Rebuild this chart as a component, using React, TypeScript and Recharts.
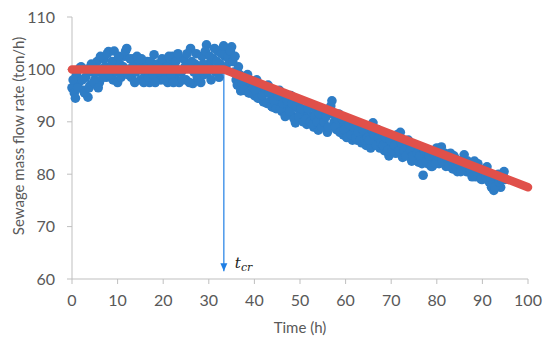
import React from 'react';
import { ScatterChart, Scatter, XAxis, YAxis, ReferenceLine, ReferenceDot } from 'recharts';

// Measured sewage mass flow rate (time h, flow ton/h) — readings on the half hour
const measuredA: [number, number][] = [
  [0, 96.5], [0.5, 95.5], [1, 99], [1.5, 97.5], [2, 100.5], [2.5, 96], [3, 98.5], [3.5, 94.7], [4, 97], [4.5, 99.5],
  [5, 98], [5.5, 101.5], [6, 97.5], [6.5, 100], [7, 102], [7.5, 98.5], [8, 103.4], [8.5, 100], [9, 98], [9.5, 101.5],
  [10, 97.5], [10.5, 101], [11, 99], [11.5, 102.5], [12, 104], [12.5, 100], [13, 98.5], [13.5, 102], [14, 99.5], [14.5, 101],
  [15, 98], [15.5, 100.5], [16, 99], [16.5, 101.5], [17, 97.5], [17.5, 100], [18, 102.8], [18.5, 98.5], [19, 100.5], [19.5, 98],
  [20, 101.5], [20.5, 99], [21, 97.5], [21.5, 101], [22, 102.5], [22.5, 98.5], [23, 100], [23.5, 97.5], [24, 99.5], [24.5, 102],
  [25, 98], [25.5, 100.5], [26, 104], [26.5, 97.3], [27, 101], [27.5, 98.5], [28, 100], [28.5, 102.5], [29, 99], [29.5, 104.7],
  [30, 101], [30.5, 98], [31, 102], [31.5, 99.5], [32, 103.5], [32.5, 101], [33, 100], [33.5, 102.5], [34, 104], [34.5, 101.5],
  [35, 104.3], [35.5, 99.5], [36, 98], [36.5, 100.5], [37, 95.9], [37.5, 98.5], [38, 97], [38.5, 99], [39, 95.5], [39.5, 97.5],
  [40, 95], [40.5, 98], [41, 94.5], [41.5, 96.5], [42, 93.8], [42.5, 95.5], [43, 97], [43.5, 94], [44, 92.8], [44.5, 95],
  [45, 93.5], [45.5, 96], [46, 92], [46.5, 94.5], [47, 91.5], [47.5, 93], [48, 95], [48.5, 91], [49, 89.8], [49.5, 92.5],
  [50, 94], [50.5, 90.5], [51, 92], [51.5, 89.5], [52, 93], [52.5, 91], [53, 89], [53.5, 92], [54, 88.4], [54.5, 90.5],
  [55, 91.5], [55.5, 89], [56, 88], [56.5, 92.5], [57, 94], [57.5, 90], [58, 88.5], [58.5, 91.5], [59, 89], [59.5, 87.5],
  [60, 90], [60.5, 88], [61, 89.5], [61.5, 86.5], [62, 88.5], [62.5, 86.5], [63, 89], [63.5, 86], [64, 87.5], [64.5, 85.5],
  [65, 88], [65.5, 85], [66, 89.8], [66.5, 86.5], [67, 88.5], [67.5, 85], [68, 87], [68.5, 84.5], [69, 86], [69.5, 83.5],
  [70, 85.5], [70.5, 87], [71, 84], [71.5, 86.5], [72, 88], [72.5, 83.2], [73, 85], [73.5, 84], [74, 86], [74.5, 82.5],
  [75, 84.5], [75.5, 83], [76, 82.3], [76.5, 85], [77, 79.8], [77.5, 83.5], [78, 82], [78.5, 84.5], [79, 81.5], [79.5, 83],
  [80, 85], [80.5, 82], [81, 85.2], [81.5, 83.5], [82, 81.5], [82.5, 82.3], [83, 84], [83.5, 81], [84, 83], [84.5, 80.5],
  [85, 82.5], [85.5, 81], [86, 83.7], [86.5, 80.5], [87, 82], [87.5, 80.2], [88, 81.5], [88.5, 79.5], [89, 82], [89.5, 80],
  [90, 79], [90.5, 81], [91, 81.4], [91.5, 78.5], [92, 77.5], [92.5, 76.9], [93, 78.5], [93.5, 80], [94, 77.5], [94.5, 80],
  [95, 79],
];

// Measured readings in between (quarter past / quarter to)
const measuredB: [number, number][] = [
  [0.25, 98], [0.75, 94.5], [1.25, 96.5], [1.75, 100.3], [2.25, 98], [2.75, 95.5], [3.25, 100], [3.75, 96.5], [4.25, 101], [4.75, 97.5],
  [5.25, 99.5], [5.75, 96.5], [6.25, 102.5], [6.75, 98.5], [7.25, 100.5], [7.75, 103], [8.25, 99], [8.75, 101.5], [9.25, 103.5], [9.75, 99.5],
  [10.25, 102.5], [10.75, 98.5], [11.25, 100.5], [11.75, 103.5], [12.25, 99], [12.75, 102], [13.25, 100.5], [13.75, 97.5], [14.25, 102.5], [14.75, 100],
  [15.25, 102], [15.75, 97.5], [16.25, 100.5], [16.75, 98.5], [17.25, 101.5], [17.75, 99], [18.25, 97.5], [18.75, 101], [19.25, 99.5], [19.75, 102],
  [20.25, 98], [20.75, 100.5], [21.25, 102.5], [21.75, 99], [22.25, 97.5], [22.75, 101.5], [23.25, 103], [23.75, 99.5], [24.25, 98], [24.75, 100.5],
  [25.25, 103], [25.75, 97.5], [26.25, 101.5], [26.75, 99.5], [27.25, 103], [27.75, 100.5], [28.25, 97.5], [28.75, 101], [29.25, 103.5], [29.75, 99.5],
  [30.25, 102.5], [30.75, 100], [31.25, 104], [31.75, 101.5], [32.25, 98.5], [32.75, 103], [33.25, 104.5], [33.75, 100.5], [34.25, 102.5], [34.75, 103.5],
  [35.25, 101.5], [35.75, 102.5], [36.25, 97], [36.75, 99], [37.25, 97.5], [37.75, 96], [38.25, 98.5], [38.75, 95.5], [39.25, 97.5], [39.75, 96.5],
  [40.25, 96], [40.75, 94.5], [41.25, 97], [41.75, 95], [42.25, 96.5], [42.75, 93.5], [43.25, 95.5], [43.75, 93], [44.25, 94], [44.75, 92.5],
  [45.25, 95], [45.75, 92.5], [46.25, 93.5], [46.75, 91], [47.25, 94], [47.75, 92], [48.25, 93.5], [48.75, 90.5], [49.25, 93], [49.75, 91],
  [50.25, 92.5], [50.75, 90], [51.25, 90.5], [51.75, 92.5], [52.25, 90], [52.75, 89.5], [53.25, 91], [53.75, 90], [54.25, 91.5], [54.75, 89],
  [55.25, 90], [55.75, 91], [56.25, 89], [56.75, 93], [57.25, 91.5], [57.75, 89], [58.25, 90.5], [58.75, 88], [59.25, 90.5], [59.75, 88.5],
  [60.25, 87], [60.75, 89.5], [61.25, 87.5], [61.75, 89], [62.25, 87], [62.75, 88], [63.25, 86.5], [63.75, 88.5], [64.25, 86.5], [64.75, 87],
  [65.25, 86.5], [65.75, 88.5], [66.25, 87.5], [66.75, 85.5], [67.25, 87], [67.75, 86], [68.25, 85.5], [68.75, 87], [69.25, 84.5], [69.75, 86.5],
  [70.25, 84.5], [70.75, 85.5], [71.25, 87.5], [71.75, 84.5], [72.25, 86], [72.75, 84.5], [73.25, 83.5], [73.75, 86.5], [74.25, 84.5], [74.75, 83.5],
  [75.25, 85.5], [75.75, 84], [76.25, 83.5], [76.75, 82], [77.25, 84.5], [77.75, 82.5], [78.25, 83.5], [78.75, 81.5], [79.25, 84], [79.75, 82],
  [80.25, 83.5], [80.75, 84.5], [81.25, 82.5], [81.75, 84], [82.25, 83], [82.75, 81.5], [83.25, 82.5], [83.75, 83.5], [84.25, 81.5], [84.75, 82],
  [85.25, 80.5], [85.75, 82.5], [86.25, 81.5], [86.75, 82.5], [87.25, 81], [87.75, 79.5], [88.25, 82.5], [88.75, 80.5], [89.25, 81], [89.75, 79],
  [90.25, 80.5], [90.75, 79.5], [91.25, 80], [91.75, 79.5], [92.25, 78], [92.75, 77.5], [93.25, 79.5], [93.75, 78.5], [94.25, 79], [94.75, 80.5],
];

// Piecewise trend (red line)
const trendTime = [0, 33.3, 100];
const trendFlow = [100, 100, 77.5];

// Critical time marker
const tCr = 33.3;
const arrowStart = 100;
const arrowEnd = 61.5;

const xTicks = [0, 10, 20, 30, 40, 50, 60, 70, 80, 90, 100];
const yTicks = [60, 70, 80, 90, 100, 110];

const scatterData = [...measuredA, ...measuredB].map(([t, v]) => ({ t, v }));
const trendData = trendTime.map((t, i) => ({ t, v: trendFlow[i] }));

const FONT = 'Lato, "Open Sans", sans-serif';
const AXIS = '#BFBFBF';
const TEXT = '#595959';
const BLUE = '#2E7DC6';
const RED = '#E0504A';
const ARROW = '#1F7FE5';

const Dot = (p: any) => <circle cx={p.cx} cy={p.cy} r={4.8} fill={BLUE} />;

const ArrowHead = (p: any) => (
  <g>
    <polygon points={`${p.cx - 3.5},${p.cy - 8} ${p.cx + 3.5},${p.cy - 8} ${p.cx},${p.cy}`} fill={ARROW} />
    <text x={p.cx + 11} y={p.cy - 3} fontFamily='"DejaVu Serif", "Liberation Serif", serif' fontStyle="italic" fontSize={15} fill="#222">
      t
      <tspan fontSize={11} dy={3}>cr</tspan>
    </text>
  </g>
);

const YTitle = (props: any) => {
  const vb = props.viewBox;
  const cx = vb.x + 18;
  const cy = vb.y + vb.height / 2 - 12;
  return (
    <text x={cx} y={cy} transform={`rotate(-90, ${cx}, ${cy})`} textAnchor="middle" dominantBaseline="central" fontFamily={FONT} fontSize={15} fill={TEXT}>
      Sewage mass flow rate (ton/h)
    </text>
  );
};

const XTitle = (props: any) => {
  const vb = props.viewBox;
  const cx = vb.x + vb.width / 2;
  return (
    <text x={cx} y={vb.y + 48} textAnchor="middle" dominantBaseline="central" fontFamily={FONT} fontSize={15} fill={TEXT}>
      Time (h)
    </text>
  );
};

export default function App() {
  return (
    <div style={{ position: 'absolute', left: 0, top: 0, background: '#fff' }}>
      <ScatterChart width={550} height={341} margin={{ top: 17, right: 22, bottom: 0, left: 0 }}>
        <XAxis
          type="number"
          dataKey="t"
          domain={[0, 100]}
          ticks={xTicks}
          interval={0}
          height={62}
          axisLine={{ stroke: AXIS }}
          tickLine={{ stroke: AXIS }}
          tickSize={5}
          tickMargin={11}
          tick={{ fill: TEXT, fontSize: 16, fontFamily: FONT }}
          label={{ content: XTitle }}
        />
        <YAxis
          type="number"
          dataKey="v"
          domain={[60, 110]}
          ticks={yTicks}
          interval={0}
          width={72}
          axisLine={{ stroke: AXIS }}
          tickLine={{ stroke: AXIS }}
          tickSize={5}
          tickMargin={12}
          tick={{ fill: TEXT, fontSize: 16, fontFamily: FONT }}
          label={{ content: YTitle }}
        />
        <Scatter data={scatterData} shape={Dot} isAnimationActive={false} />
        <Scatter
          data={trendData}
          line={{ stroke: RED, strokeWidth: 8.5, strokeLinecap: 'round', strokeLinejoin: 'round' }}
          lineType="joint"
          shape={() => <g />}
          isAnimationActive={false}
        />
        <ReferenceLine
          segment={[{ x: tCr, y: arrowStart }, { x: tCr, y: arrowEnd }]}
          stroke={ARROW}
          strokeWidth={1.2}
          ifOverflow="visible"
        />
        <ReferenceDot x={tCr} y={arrowEnd} shape={ArrowHead} ifOverflow="visible" />
      </ScatterChart>
    </div>
  );
}
